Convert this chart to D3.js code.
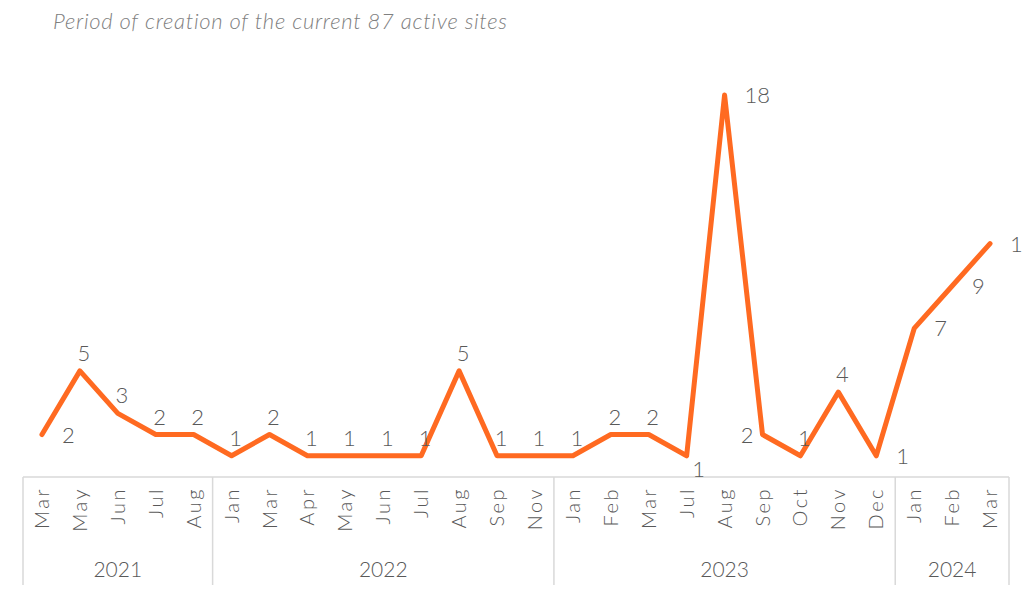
<!DOCTYPE html>
<html>
<head>
<meta charset="utf-8">
<script src="https://cdn.jsdelivr.net/npm/d3@7"></script>
<style>
  body { margin: 0; background: #fff; }
  text { font-family: "Lato", "Open Sans", sans-serif; font-weight: 300; }
</style>
</head>
<body>
<div id="chart"></div>
<script>
const months = ["Mar","May","Jun","Jul","Aug",
  "Jan","Mar","Apr","May","Jun","Jul","Aug","Sep","Nov",
  "Jan","Feb","Mar","Jul","Aug","Sep","Oct","Nov","Dec",
  "Jan","Feb","Mar"];
const years = [2021,2021,2021,2021,2021,
  2022,2022,2022,2022,2022,2022,2022,2022,2022,
  2023,2023,2023,2023,2023,2023,2023,2023,2023,
  2024,2024,2024];
const values = [2,5,3,2,2, 1,2,1,1,1,1,5,1,1, 1,2,2,1,18,2,1,4,1, 7,9,11];
// where each data label sits relative to its point
const labelPos = ["r","t","t","t","t", "t","t","t","t","t","t","t","t","t",
  "t","t","t","br","r","l","t","t","r", "r","r","r"];

const width = 1024, height = 591;
const margin = { top: 95, right: 15, bottom: 6, left: 23 };
const axisY = 477;

const svg = d3.select("#chart")
  .append("svg")
  .attr("width", width)
  .attr("height", height);

svg.append("text")
  .attr("x", 53)
  .attr("y", 29)
  .attr("font-size", 22)
  .attr("letter-spacing", 0.7)
  .attr("font-style", "italic")
  .attr("fill", "#808080")
  .text("Period of creation of the current 87 active sites");

const idx = d3.range(values.length);

const x = d3.scaleBand()
  .domain(idx)
  .range([margin.left, width - margin.right]);

const y = d3.scaleLinear()
  .domain([0, 18])
  .range([axisY, margin.top]);

const cx = i => x(i) + x.bandwidth() / 2;

// axis frame
const grid = "#d9d9d9";
const bottom = height - margin.bottom;
svg.append("line")
  .attr("x1", x.range()[0]).attr("x2", x.range()[1])
  .attr("y1", axisY).attr("y2", axisY)
  .attr("stroke", grid).attr("stroke-width", 1.5);

const groups = d3.groups(idx, i => years[i]);
const bounds = [x(0)];
groups.forEach(([yr, ids]) => bounds.push(x(ids[ids.length - 1]) + x.bandwidth()));

svg.selectAll(".sep")
  .data(bounds)
  .enter()
  .append("line")
  .attr("x1", d => d).attr("x2", d => d)
  .attr("y1", axisY).attr("y2", bottom)
  .attr("stroke", grid).attr("stroke-width", 1.5);

svg.selectAll(".month")
  .data(idx)
  .enter()
  .append("text")
  .attr("transform", i => `translate(${cx(i) + 7},${axisY + 10}) rotate(-90)`)
  .attr("text-anchor", "end")
  .attr("font-size", 20)
  .attr("letter-spacing", 2.5)
  .attr("fill", "#595959")
  .text(i => months[i]);

svg.selectAll(".year")
  .data(groups)
  .enter()
  .append("text")
  .attr("x", ([yr, ids]) => (x(ids[0]) + x(ids[ids.length - 1]) + x.bandwidth()) / 2)
  .attr("y", 577)
  .attr("text-anchor", "middle")
  .attr("font-size", 21)
  .attr("fill", "#595959")
  .text(([yr]) => yr);

const line = d3.line()
  .x(i => cx(i))
  .y(i => y(values[i]));

svg.append("path")
  .datum(idx)
  .attr("d", line)
  .attr("fill", "none")
  .attr("stroke", "#ff6a21")
  .attr("stroke-width", 5)
  .attr("stroke-linejoin", "round")
  .attr("stroke-linecap", "round");

const off = {
  t: [4, -10, "middle"],
  r: [20, 8, "start"],
  l: [-9, 8, "end"],
  br: [12, 21, "middle"]
};

svg.selectAll(".lbl")
  .data(idx)
  .enter()
  .append("text")
  .attr("x", i => cx(i) + off[labelPos[i]][0])
  .attr("y", i => y(values[i]) + off[labelPos[i]][1])
  .attr("text-anchor", i => off[labelPos[i]][2])
  .attr("font-size", 22)
  .attr("fill", "#595959")
  .text(i => values[i]);
</script>
</body>
</html>
